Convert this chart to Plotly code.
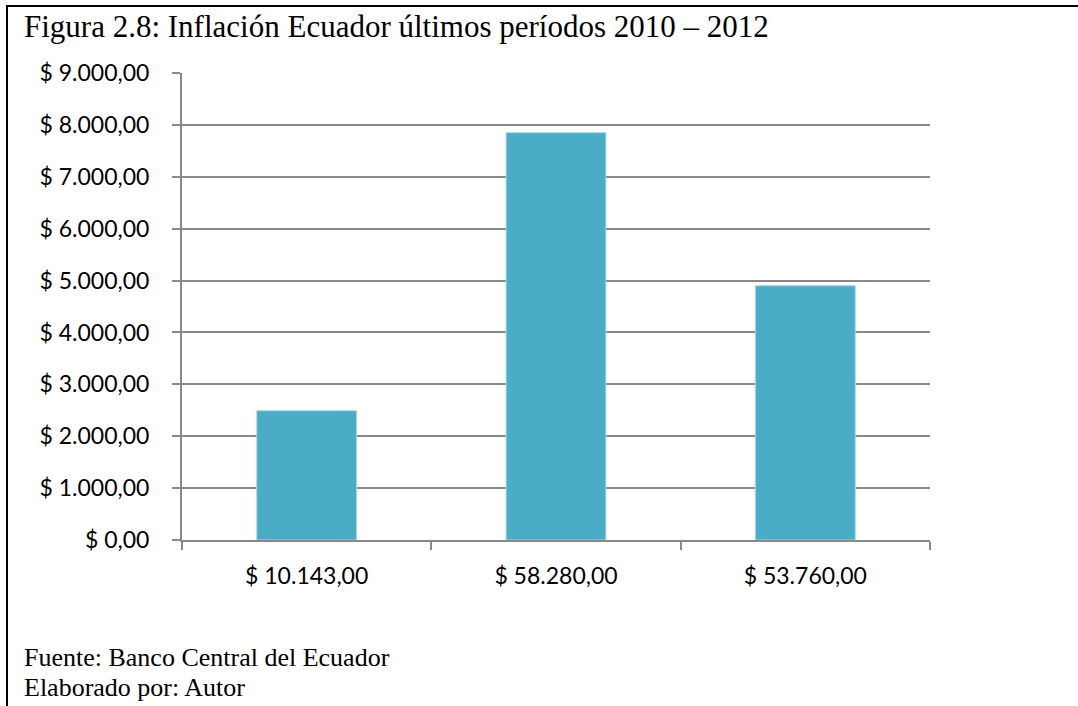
import plotly.graph_objects as go

# Categories (x-axis labels) and bar values
categorias = ["$ 10.143,00", "$ 58.280,00", "$ 53.760,00"]
valores = [2490, 7850, 4900]

# Y-axis ticks
y_ticks = [0, 1000, 2000, 3000, 4000, 5000, 6000, 7000, 8000, 9000]
y_tick_labels = ["$ 0,00", "$ 1.000,00", "$ 2.000,00", "$ 3.000,00", "$ 4.000,00",
                 "$ 5.000,00", "$ 6.000,00", "$ 7.000,00", "$ 8.000,00", "$ 9.000,00"]

titulo = "Figura 2.8: Inflación Ecuador últimos períodos 2010 – 2012"
fuente = "Fuente: Banco Central del Ecuador"
elaborado = "Elaborado por: Autor"

W, H = 1078, 706
L, R, T, B = 182, 148, 73, 166
pw, ph = W - L - R, H - T - B


def px_x(x):
    return (x - L) / pw


def px_y(y):
    return (H - B - y) / ph


fig = go.Figure(
    go.Bar(
        x=categorias,
        y=valores,
        width=0.4,
        marker=dict(color="#4BACC6", line=dict(color="#9fd6e6", width=1)),
    )
)

axis_gray = "#898989"
tick_font = dict(family="Lato", size=23, color="black")

fig.update_layout(
    width=W,
    height=H,
    margin=dict(l=L, r=R, t=T, b=B),
    paper_bgcolor="white",
    plot_bgcolor="white",
    showlegend=False,
    xaxis=dict(
        type="category",
        showline=True,
        linecolor=axis_gray,
        linewidth=2,
        ticks="outside",
        tickson="boundaries",
        ticklen=8,
        tickcolor=axis_gray,
        tickwidth=1.5,
        showgrid=False,
        ticklabelstandoff=14,
        tickfont=tick_font,
    ),
    yaxis=dict(
        range=[0, 9000],
        tickvals=y_ticks,
        ticktext=y_tick_labels,
        showline=True,
        linecolor=axis_gray,
        linewidth=2,
        ticks="outside",
        ticklen=8,
        tickcolor=axis_gray,
        tickwidth=1.5,
        showgrid=True,
        gridcolor=axis_gray,
        gridwidth=1.5,
        zeroline=False,
        ticklabelstandoff=18,
        tickfont=tick_font,
    ),
    shapes=[
        # frame: top and left edges
        dict(type="line", xref="paper", yref="paper",
             x0=px_x(6), x1=px_x(W + 5), y0=px_y(6), y1=px_y(6),
             line=dict(color="black", width=2)),
        dict(type="line", xref="paper", yref="paper",
             x0=px_x(7), x1=px_x(7), y0=px_y(5), y1=px_y(H + 5),
             line=dict(color="black", width=2)),
    ],
    annotations=[
        dict(text=titulo, xref="paper", yref="paper", x=px_x(22), y=px_y(7),
             xanchor="left", yanchor="top", showarrow=False,
             font=dict(family="Liberation Serif", size=31, color="black")),
        dict(text=fuente, xref="paper", yref="paper", x=px_x(22), y=px_y(641),
             xanchor="left", yanchor="top", showarrow=False,
             font=dict(family="Liberation Serif", size=26, color="black")),
        dict(text=elaborado, xref="paper", yref="paper", x=px_x(22), y=px_y(671),
             xanchor="left", yanchor="top", showarrow=False,
             font=dict(family="Liberation Serif", size=26, color="black")),
    ],
)

fig.write_html("out.html")
